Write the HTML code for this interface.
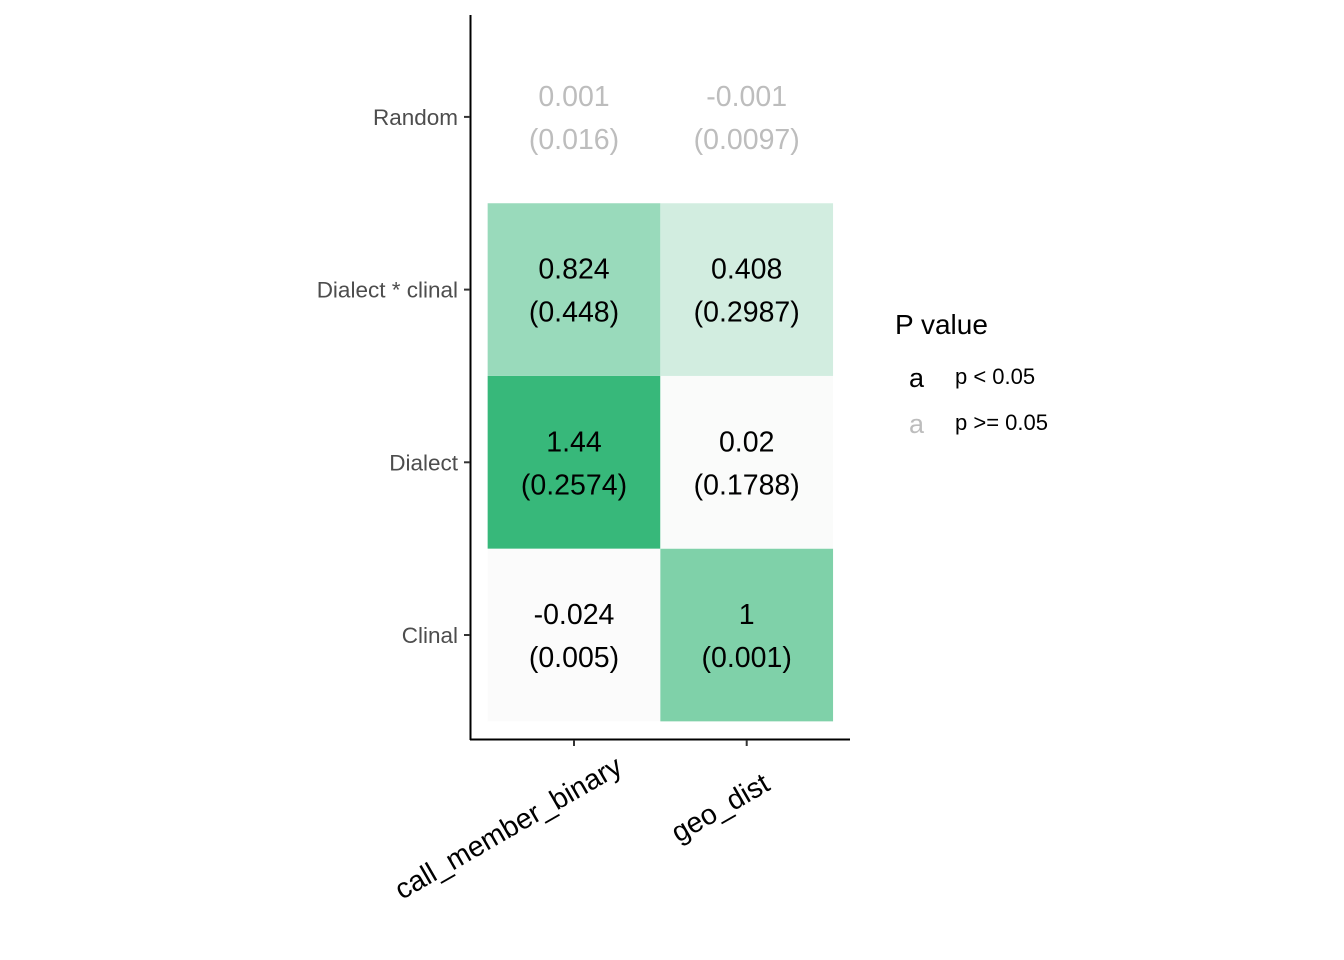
<!DOCTYPE html>
<html><head><meta charset="utf-8"><style>
body{margin:0;background:#fff;}
svg{display:block;font-family:"Liberation Sans",sans-serif;}
</style></head><body>
<svg id="chart" width="1344" height="960"></svg>
<script>
const xCats=["call_member_binary","geo_dist"];
const yCats=["Clinal","Dialect","Dialect * clinal","Random"];
const estimates=[[-0.024,1],[1.44,0.02],[0.824,0.408],[0.001,-0.001]];
const estLabels=[["-0.024","1"],["1.44","0.02"],["0.824","0.408"],["0.001","-0.001"]];
const seLabels=[["(0.005)","(0.001)"],["(0.2574)","(0.1788)"],["(0.448)","(0.2987)"],["(0.016)","(0.0097)"]];
const significant=[[true,true],[true,true],[true,true],[false,false]];

const NS="http://www.w3.org/2000/svg";
const svg=document.getElementById('chart');
function mk(t,a,p){const e=document.createElementNS(NS,t);for(const k in a)e.setAttribute(k,a[k]);(p||svg).appendChild(e);return e;}
const cw=172.7,ch=172.7;
const xPos=i=>574+i*cw;
const yPos=j=>635-j*ch;
function color(v){
  const t=Math.pow(Math.max(0,Math.min(1,v/1.44)),1.25);
  const a=[251,251,251],b=[55,184,122];
  return `rgb(${a.map((c,i)=>Math.round(c+(b[i]-c)*t)).join(',')})`;
}
yCats.forEach((yc,j)=>{xCats.forEach((xc,i)=>{
  if(significant[j][i]){
    const r=mk('rect',{x:xPos(i)-cw/2,y:yPos(j)-ch/2,width:cw,height:ch,fill:color(estimates[j][i])});
    
    
  }
  const col=significant[j][i]?'#000':'#bdbdbd';
  const t1=mk('text',{x:xPos(i),y:yPos(j)-11,'text-anchor':'middle','font-size':28.5,fill:col});
  t1.textContent=estLabels[j][i];
  
  
  const t2=mk('text',{x:xPos(i),y:yPos(j)+32,'text-anchor':'middle','font-size':28.5,fill:col});
  t2.textContent=seLabels[j][i];
  
  
});});
const ya=mk('line',{x1:470.5,y1:15,x2:470.5,y2:740,stroke:'#000','stroke-width':2});


const xa=mk('line',{x1:470,y1:739.5,x2:850,y2:739.5,stroke:'#000','stroke-width':2});


yCats.forEach((c,j)=>{
  mk('line',{x1:464,x2:470,y1:yPos(j),y2:yPos(j),stroke:'#333','stroke-width':2});
  const t=mk('text',{x:458,y:yPos(j)+8,'text-anchor':'end','font-size':22.5,fill:'#4d4d4d'});
  t.textContent=c;
  
  
});
xCats.forEach((c,i)=>{
  mk('line',{x1:xPos(i),x2:xPos(i),y1:740,y2:746,stroke:'#333','stroke-width':2});
  const cx=i===0?513:725, cy=i===0?836:816;
  const t=mk('text',{x:cx,y:cy,'text-anchor':'middle','font-size':28.5,fill:'#000',transform:`rotate(-30 ${cx} ${cy})`});
  t.textContent=c;
  
  
});
const lt=mk('text',{x:895,y:334,'font-size':28,fill:'#000'});lt.textContent='P value';


[['#000','p < 0.05',384],['#bdbdbd','p >= 0.05',430]].forEach(([c,l,y])=>{
  const g=mk('g',{});
  
  
  mk('text',{x:909,y:y+3,'font-size':27,fill:c},g).textContent='a';
  mk('text',{x:955,y:y,'font-size':22,fill:'#000'},g).textContent=l;
});
</script>
</body></html>
